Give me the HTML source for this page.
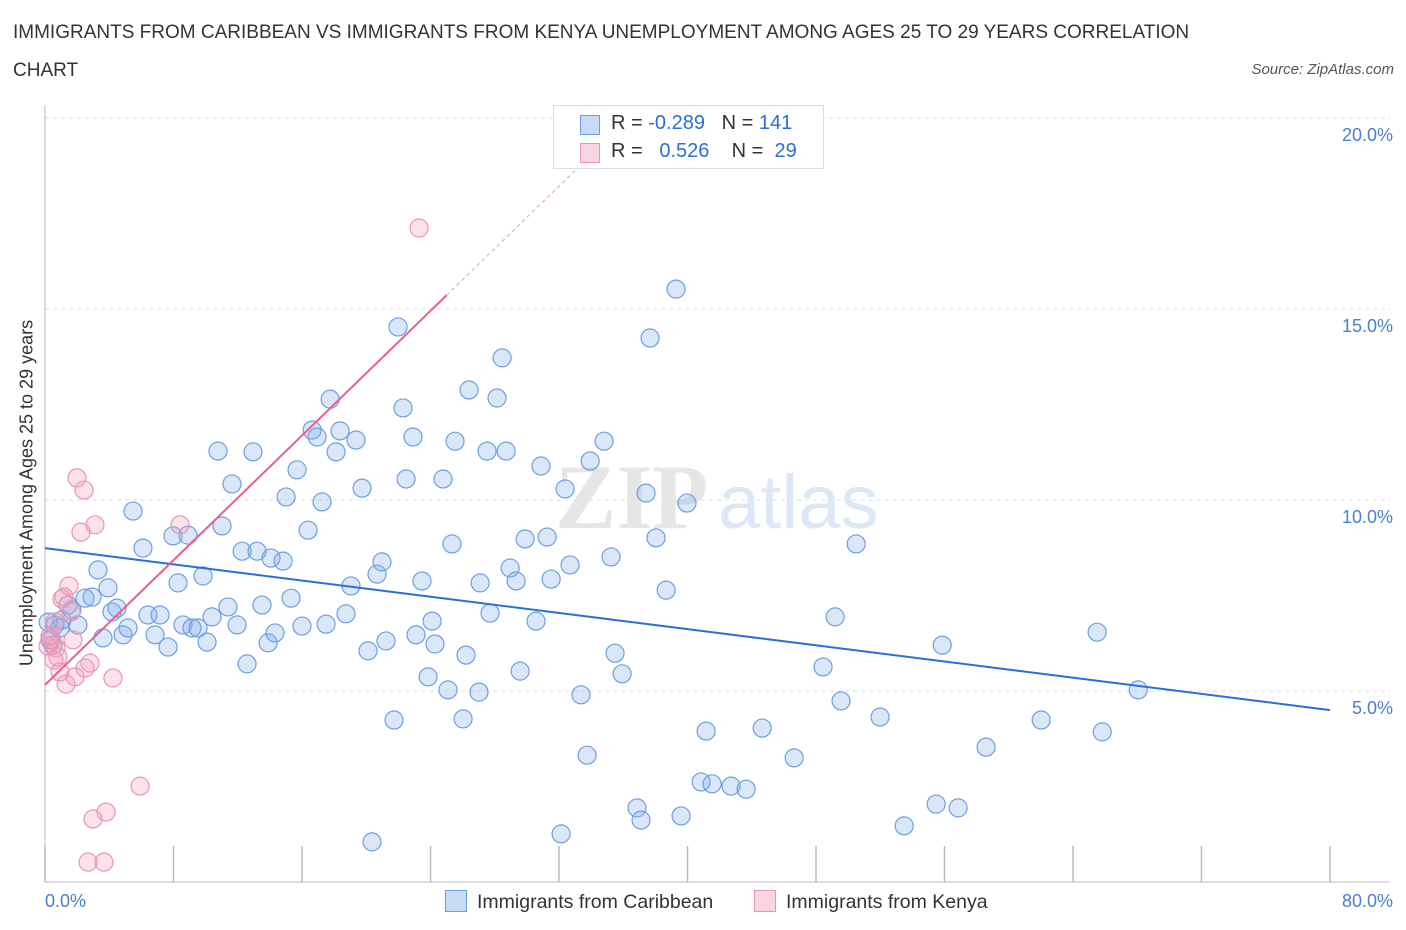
<!DOCTYPE html>
<html><head><meta charset="utf-8">
<style>
body{margin:0;background:#fff;font-family:"Liberation Sans",sans-serif;}
#wrap{position:relative;width:1406px;height:930px;overflow:hidden;}
.t{position:absolute;white-space:nowrap;}
</style></head>
<body>
<div id="wrap">
<div class="t" style="left:13px;top:14px;font-size:19px;color:#333;line-height:38px;">IMMIGRANTS FROM CARIBBEAN VS IMMIGRANTS FROM KENYA UNEMPLOYMENT AMONG AGES 25 TO 29 YEARS CORRELATION<br>CHART</div>
<div class="t" style="right:12px;top:61px;font-size:15px;font-style:italic;color:#555;">Source: ZipAtlas.com</div>
<svg id="chart" width="1406" height="930" style="position:absolute;left:0;top:0"></svg>
</div>
<script>
const blueX=[0.31,0.62,0.93,1.06,1.43,1.68,2.05,2.49,2.93,3.30,3.92,3.61,4.17,4.48,4.86,5.17,5.48,6.10,6.41,6.85,7.16,7.66,7.97,8.28,8.59,8.90,9.15,9.53,9.84,10.09,10.40,10.77,11.02,11.39,11.64,11.96,12.27,12.58,12.95,13.20,13.51,13.89,14.07,14.32,14.82,15.32,15.01,15.69,16.00,16.38,16.63,16.94,17.25,17.50,17.75,18.12,18.37,18.74,19.05,19.36,19.74,20.11,20.67,20.98,21.23,21.73,21.98,22.29,22.48,22.91,23.10,23.47,23.85,24.10,24.28,24.78,25.09,25.34,25.53,26.03,26.21,26.40,27.09,27.02,27.52,27.71,28.14,28.46,28.71,28.96,29.33,29.58,29.89,30.57,30.88,31.26,31.51,32.13,32.38,32.69,33.37,33.75,33.94,34.81,35.24,35.49,35.93,36.86,37.11,37.42,37.67,38.04,38.67,39.29,39.60,39.97,40.85,41.16,41.53,42.71,43.65,44.65,46.64,48.44,49.19,49.56,50.50,51.99,53.49,55.48,55.86,56.85,58.59,62.02,65.50,65.82,68.06,20.36,0.2,0.5];
const blueY=[6.34,6.73,6.65,6.86,7.25,7.12,6.73,7.43,7.46,8.17,7.70,6.39,7.07,7.17,6.47,6.65,9.71,8.74,6.99,6.47,6.99,6.15,9.06,7.83,6.73,9.08,6.65,6.65,8.01,6.28,6.94,11.28,9.32,7.20,10.42,6.73,8.66,5.71,11.26,8.66,7.25,6.26,8.48,6.52,8.40,7.43,10.08,10.79,6.70,9.21,11.83,11.65,9.95,6.75,12.64,11.26,11.81,7.02,7.75,11.57,10.31,6.05,8.06,8.38,6.31,4.24,14.53,12.41,10.55,11.65,6.47,7.88,5.37,6.83,6.23,10.55,5.03,8.85,11.54,4.27,5.94,12.88,7.83,4.97,11.28,7.04,12.67,13.72,11.28,8.22,7.88,5.52,8.98,6.83,10.89,9.03,7.93,1.26,10.29,8.30,4.90,3.32,11.02,11.54,8.51,5.99,5.45,1.94,1.62,10.18,14.24,9.01,7.64,15.52,1.73,9.92,2.62,3.95,2.57,2.51,2.43,4.03,3.25,5.63,6.94,4.74,8.85,4.32,1.47,2.04,6.20,1.94,3.53,4.24,6.54,3.93,5.03,1.05,6.8,6.2];
const pinkX=[23.29,1.99,2.43,3.11,2.24,8.41,1.49,1.18,1.06,1.62,0.62,0.44,0.19,0.68,1.74,2.80,2.49,0.56,0.93,1.31,1.87,4.23,5.92,3.80,2.99,2.68,3.67,0.31,0.81];
const pinkY=[17.12,10.58,10.26,9.35,9.16,9.35,7.75,7.46,7.41,7.07,6.81,6.34,6.18,6.13,6.34,5.73,5.60,5.81,5.50,5.18,5.37,5.34,2.51,1.83,1.65,0.52,0.52,6.44,5.89];
const yTicks=[5,10,15,20];
const yTickLabels=["5.0%","10.0%","15.0%","20.0%"];
const blueTrend=[8.74,4.50];
const pinkTrend=[5.16,0.408];
const NS="http://www.w3.org/2000/svg";
const svg=document.getElementById('chart');
const X0=45,X1=1330,Y0=882,Y20=118;
const sx=v=>X0+(v/80)*(X1-X0);
const sy=v=>Y0-(v/20)*(Y0-Y20);
function mk(tag,attrs,parent){const e=document.createElementNS(NS,tag);for(const k in attrs)e.setAttribute(k,attrs[k]);(parent||svg).appendChild(e);return e;}
yTicks.forEach((t,i)=>{
 const g=mk('line',{x1:X0,x2:1390,y1:sy(t),y2:sy(t),stroke:'#ddd','stroke-dasharray':'4,4'});
 
 
 const tx=mk('text',{x:1393,y:sy(t)+23,'text-anchor':'end','font-size':18,fill:'#4a7fd0','font-family':'Liberation Sans'});
 tx.textContent=yTickLabels[i];
 
 
});
const ax=mk('line',{x1:X0,x2:X0,y1:105,y2:Y0,stroke:'#bbb'});


const bx=mk('line',{x1:X0,x2:1390,y1:Y0,y2:Y0,stroke:'#bbb'});


for(let i=0;i<=10;i++){
 const tk=mk('line',{x1:sx(i*8),x2:sx(i*8),y1:Y0,y2:Y0-36,stroke:'#bbb','stroke-width':1.5});
 
 
}
const wm=mk('text',{x:555,y:528,'font-size':92,fill:'#e6e6e6','font-family':'Liberation Serif','font-weight':'bold'});
wm.textContent='ZIP';


const wm2=mk('text',{x:718,y:528,'font-size':76,fill:'#dde8f6','font-family':'Liberation Sans'});
wm2.textContent='atlas';


blueX.forEach((x,i)=>{
 const c=mk('circle',{cx:sx(x),cy:sy(blueY[i]),r:9,fill:'rgba(130,175,235,0.3)',stroke:'#6d9fe0','stroke-width':1.2});
 
 
});
pinkX.forEach((x,i)=>{
 const c=mk('circle',{cx:sx(x),cy:sy(pinkY[i]),r:9,fill:'rgba(245,160,185,0.3)',stroke:'#e995b2','stroke-width':1.2});
 
 
});
const bl=mk('line',{x1:sx(0),y1:sy(blueTrend[0]),x2:sx(80),y2:sy(blueTrend[1]),stroke:'#2a6fd6','stroke-width':2});


const pEnd=25;
const pl=mk('line',{x1:sx(0),y1:sy(pinkTrend[0]),x2:sx(pEnd),y2:sy(pinkTrend[0]+pinkTrend[1]*pEnd),stroke:'#e8608a','stroke-width':2});


const pd=mk('line',{x1:sx(pEnd),y1:sy(pinkTrend[0]+pinkTrend[1]*pEnd),x2:sx(34),y2:sy(pinkTrend[0]+pinkTrend[1]*34),stroke:'#e8a0b8','stroke-width':1,'stroke-dasharray':'4,3'});


</script>
<div class="t" style="left:27px;top:493px;font-size:18px;color:#333;transform:translate(-50%,-50%) rotate(-90deg);">Unemployment Among Ages 25 to 29 years</div>
<div class="t" style="left:45px;top:891px;font-size:18px;color:#4a7fd0;">0.0%</div>
<div class="t" style="right:13px;top:891px;font-size:18px;color:#4a7fd0;">80.0%</div>
<div style="position:absolute;left:553px;top:105px;width:269px;height:62px;border:1px solid #ddd;background:#fff;font-size:20px;">
 <div style="position:absolute;left:26px;top:9px;width:18px;height:18px;background:rgba(130,175,235,0.45);border:1px solid #6d9fe0;"></div>
 <div class="t" style="left:57px;top:6px;color:#333;">R = <span style="color:#2a6fd6">-0.289</span>&nbsp;&nbsp;&nbsp;N = <span style="color:#2a6fd6">141</span></div>
 <div style="position:absolute;left:26px;top:37px;width:18px;height:18px;background:rgba(245,160,185,0.45);border:1px solid #e995b2;"></div>
 <div class="t" style="left:57px;top:34px;color:#333;">R =&nbsp;&nbsp;&nbsp;<span style="color:#2a6fd6">0.526</span>&nbsp;&nbsp;&nbsp;&nbsp;N =&nbsp;&nbsp;<span style="color:#2a6fd6">29</span></div>
</div>
<div style="position:absolute;left:445px;top:890px;font-size:19.5px;color:#333;">
 <div style="position:absolute;left:0;top:0;white-space:nowrap;"><span style="display:inline-block;width:20px;height:20px;background:rgba(130,175,235,0.45);border:1px solid #6d9fe0;vertical-align:-4px;margin-right:10px;"></span>Immigrants from Caribbean</div>
 <div style="position:absolute;left:309px;top:0;white-space:nowrap;"><span style="display:inline-block;width:20px;height:20px;background:rgba(245,160,185,0.45);border:1px solid #e995b2;vertical-align:-4px;margin-right:10px;"></span>Immigrants from Kenya</div>
</div>
</body></html>
